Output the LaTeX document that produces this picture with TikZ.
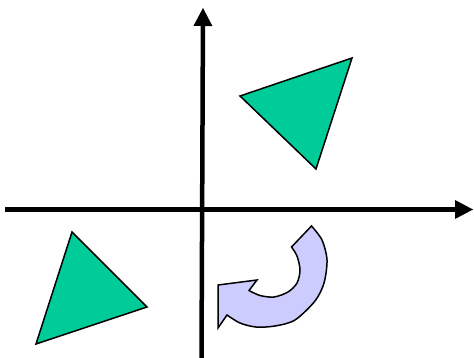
\documentclass[tikz,border=0pt]{standalone}
\usetikzlibrary{arrows.meta}
\definecolor{trigreen}{RGB}{0,204,153}
\definecolor{lavender}{RGB}{204,204,255}
\begin{document}
\begin{tikzpicture}[x=1pt,y=-1pt,
  axisline/.style={line width=4.5pt,-{Triangle[length=18pt,width=19pt,line width=0pt]}},
  tripoly/.style={draw=black,fill=trigreen,line width=1.5pt},
  turnarrow/.style={draw=black,fill=lavender,line width=1.5pt}]
\useasboundingbox (0,0) rectangle (474,358);
% axes
\coordinate (ybot) at (201.5,358);
\coordinate (ytop) at (203,8);
\coordinate (xl) at (5,209.5);
\coordinate (xr) at (473,209.5);
\draw[axisline] (ybot) -- (ytop);
\draw[axisline] (xl) -- (xr);
% triangles
\draw[tripoly] (240,96) -- (352,58) -- (316,169) -- cycle;
\draw[tripoly] (72,232) -- (147,307) -- (36,344) -- cycle;
% curved arrow
\draw[turnarrow] (311.5,226) -- (291.5,247)
  -- plot[smooth] coordinates {(291.5,247) (297,256) (300,270) (297,283) (288,292) (274,297) (260,295.5) (249,290.5)}
  -- (257,280) -- (218,285) -- (218,328) -- (227,315)
  -- plot[smooth] coordinates {(227,315) (240,323) (256,327) (275,326) (295,320) (315,301) (324,283) (327,260) (322,240) (311.5,226)}
  -- cycle;
\end{tikzpicture}
\end{document}
